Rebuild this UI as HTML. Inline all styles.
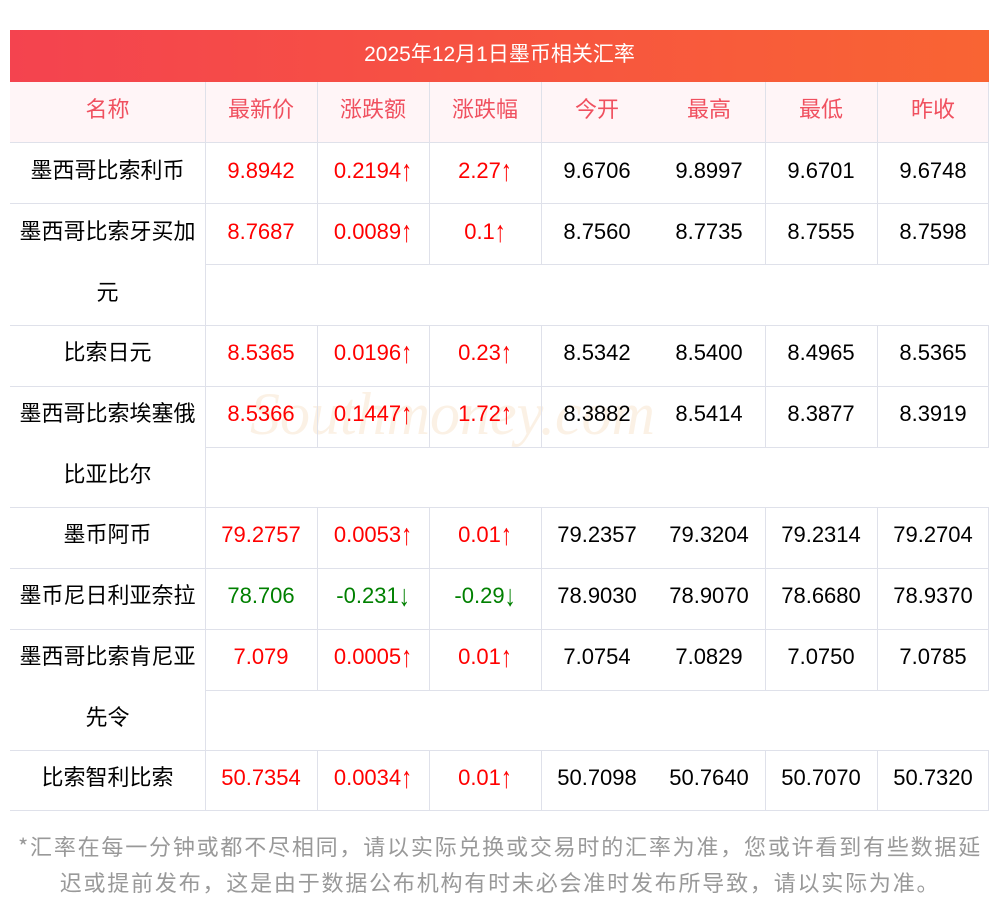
<!DOCTYPE html>
<html><head><meta charset="utf-8"><style>
body{margin:0;width:1000px;height:913px;background:#fff;position:relative;overflow:hidden;font-family:"Liberation Sans","Noto Sans CJK SC",sans-serif;font-size:22px;}
.t{position:absolute;left:10px;top:30px;width:979px;height:52px;background:linear-gradient(90deg,#f4434f,#f96433);color:#fff;text-align:center;line-height:50px;font-size:21px;}
.hd{position:absolute;left:10px;top:82px;width:979px;height:60px;background:#fff5f7;}
.h{position:absolute;left:10px;height:1px;background:#dfe1ea;}
.v{position:absolute;width:1px;background:#dfe1ea;}
.c{position:absolute;height:61px;line-height:61px;text-align:center;white-space:nowrap;}
.hc{color:#f0505f;}
.r{color:#f00}.g{color:#008000}
.ar{display:inline-block;transform:scaleY(1.35);font-family:"Liberation Sans",sans-serif;}
.f{position:absolute;left:0;width:1000px;text-align:center;color:#999;font-size:22px;letter-spacing:1.8px;font-family:"Noto Sans CJK SC",sans-serif;}
.wm{position:absolute;left:250px;top:380px;color:rgba(240,200,150,0.25);font-size:60px;font-style:italic;font-family:"Liberation Serif",serif;}
</style></head><body>
<div class="t">2025年12月1日墨币相关汇率</div>
<div class="hd"></div>
<div class="wm">Southmoney.com</div>
<div class="h" style="top:142px;width:979px"></div>
<div class="h" style="top:203px;width:979px"></div>
<div class="h" style="top:264px;left:205px;width:784px"></div>
<div class="h" style="top:325px;width:979px"></div>
<div class="h" style="top:386px;width:979px"></div>
<div class="h" style="top:447px;left:205px;width:784px"></div>
<div class="h" style="top:507px;width:979px"></div>
<div class="h" style="top:568px;width:979px"></div>
<div class="h" style="top:629px;width:979px"></div>
<div class="h" style="top:690px;left:205px;width:784px"></div>
<div class="h" style="top:750px;width:979px"></div>
<div class="h" style="top:810px;width:979px"></div>
<div class="v" style="left:205px;top:82px;height:728px"></div>
<div id="vl"></div>
<script>
var xs=[317,429,541,765,877,988],seg=[[82,142],[142,264],[325,447],[507,690],[750,810]],h='';
xs.forEach(function(x){seg.forEach(function(s){h+='<div class="v" style="left:'+x+'px;top:'+s[0]+'px;height:'+(s[1]-s[0])+'px"></div>';});});
document.getElementById('vl').outerHTML=h;
</script>
<div class="c hc" style="left:10px;width:195px;top:79px">名称</div>
<div class="c hc" style="left:205px;width:112px;top:79px">最新价</div>
<div class="c hc" style="left:317px;width:112px;top:79px">涨跌额</div>
<div class="c hc" style="left:429px;width:112px;top:79px">涨跌幅</div>
<div class="c hc" style="left:541px;width:112px;top:79px">今开</div>
<div class="c hc" style="left:653px;width:112px;top:79px">最高</div>
<div class="c hc" style="left:765px;width:112px;top:79px">最低</div>
<div class="c hc" style="left:877px;width:112px;top:79px">昨收</div>
<div id="rows"></div>
<script>
var rows=[
[140,['墨西哥比索利币'],'9.8942','0.2194↑','2.27↑','9.6706','9.8997','9.6701','9.6748','r'],
[201,['墨西哥比索牙买加','元'],'8.7687','0.0089↑','0.1↑','8.7560','8.7735','8.7555','8.7598','r'],
[322,['比索日元'],'8.5365','0.0196↑','0.23↑','8.5342','8.5400','8.4965','8.5365','r'],
[383,['墨西哥比索埃塞俄','比亚比尔'],'8.5366','0.1447↑','1.72↑','8.3882','8.5414','8.3877','8.3919','r'],
[504,['墨币阿币'],'79.2757','0.0053↑','0.01↑','79.2357','79.3204','79.2314','79.2704','r'],
[565,['墨币尼日利亚奈拉'],'78.706','-0.231↓','-0.29↓','78.9030','78.9070','78.6680','78.9370','g'],
[626,['墨西哥比索肯尼亚','先令'],'7.079','0.0005↑','0.01↑','7.0754','7.0829','7.0750','7.0785','r'],
[747,['比索智利比索'],'50.7354','0.0034↑','0.01↑','50.7098','50.7640','50.7070','50.7320','r']];
var o='',L=[205,317,429,541,653,765,877];
rows.forEach(function(r){var t=r[0];
r[1].forEach(function(n,i){o+='<div class="c" style="left:10px;width:195px;top:'+(t+i*61)+'px">'+n+'</div>';});
for(var k=0;k<7;k++){var s=r[k+2].replace(/([↑↓])/,'<span class="ar">$1</span>');o+='<div class="c '+(k<3?r[9]:'')+'" style="left:'+L[k]+'px;width:112px;top:'+t+'px">'+s+'</div>';}});
document.getElementById('rows').outerHTML=o;
</script>
<div class="f" style="top:830px">*汇率在每一分钟或都不尽相同，请以实际兑换或交易时的汇率为准，您或许看到有些数据延</div>
<div class="f" style="top:866px">迟或提前发布，这是由于数据公布机构有时未必会准时发布所导致，请以实际为准。</div>
</body></html>
